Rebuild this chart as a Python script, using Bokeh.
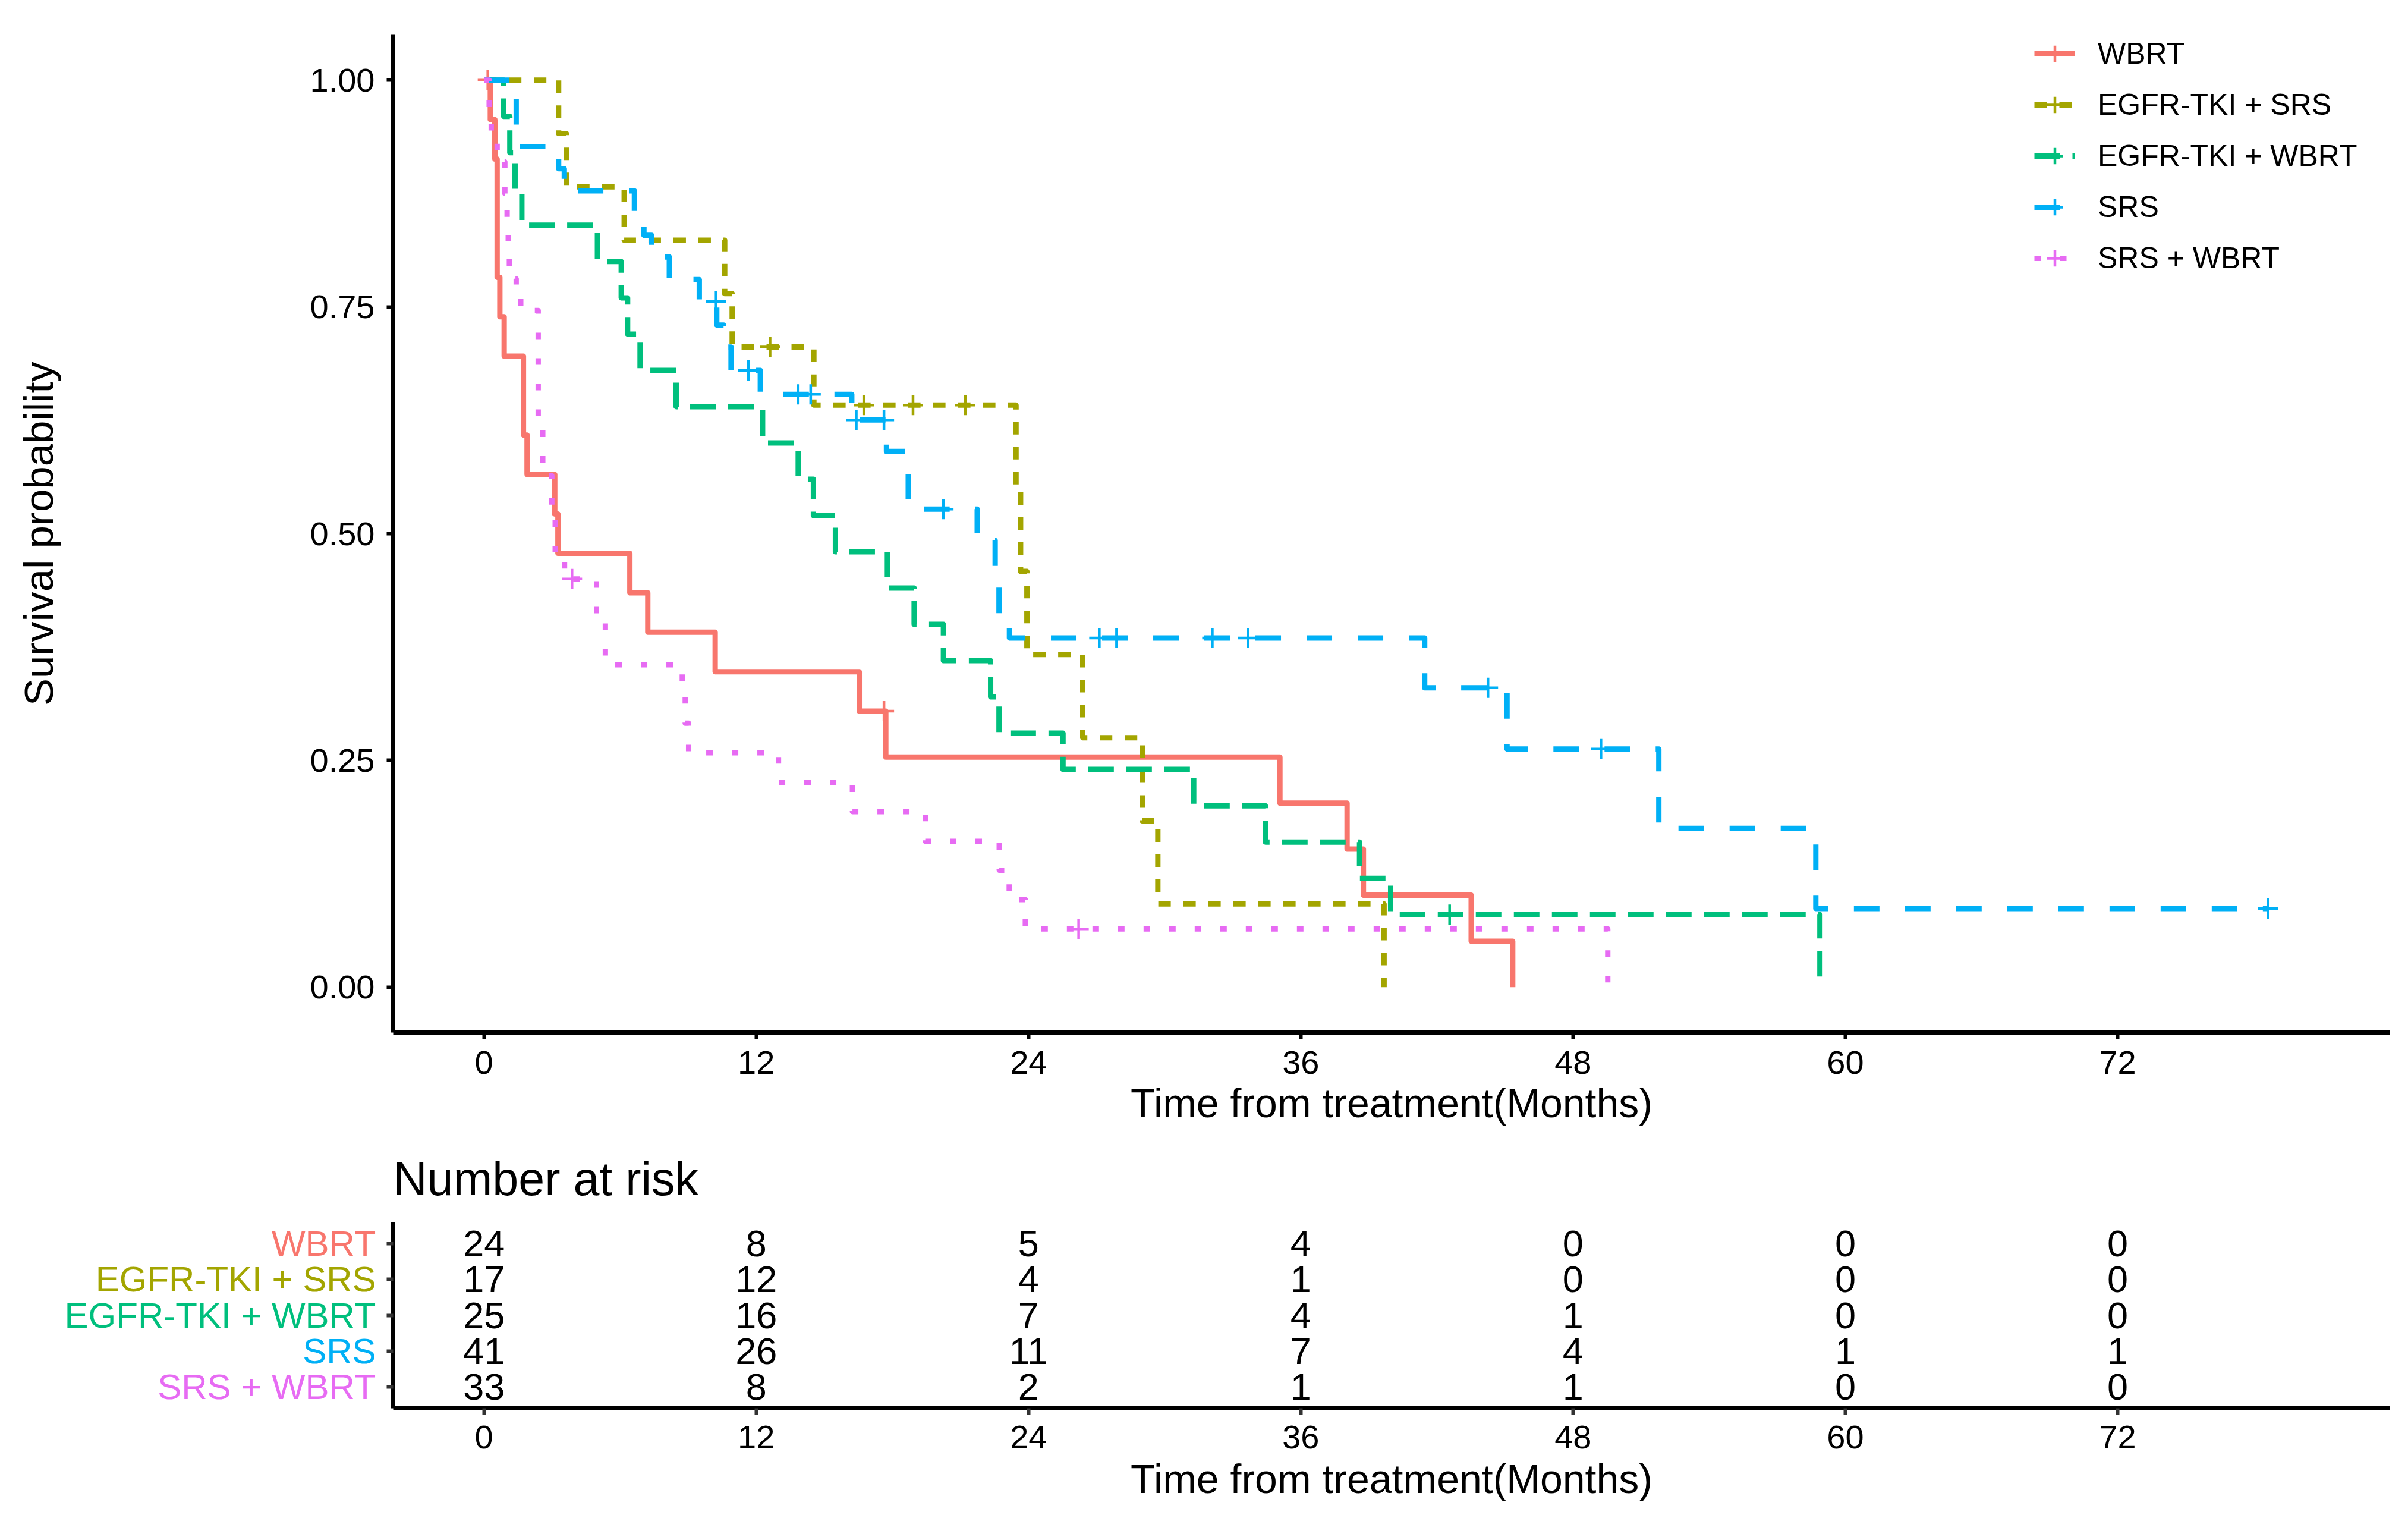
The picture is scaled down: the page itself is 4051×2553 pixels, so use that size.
from bokeh.plotting import figure
from bokeh.models import (Range1d, FixedTicker, PrintfTickFormatter, Legend,
                          LegendItem, Title, ColumnDataSource)
from bokeh.layouts import column, row
from bokeh.embed import file_html
from bokeh.resources import INLINE
from bokeh.core.properties import value

FONT = "Liberation Sans"

groups = ["WBRT", "EGFR-TKI + SRS", "EGFR-TKI + WBRT", "SRS", "SRS + WBRT"]
colors = ["#F8766D", "#A3A500", "#00BF7D", "#00B0F6", "#E76BF3"]
dashes = ["solid", "21 21", "43 21", "43 43", "11 32"]

# ---- Kaplan-Meier step data ----
wbrt_time = [0, 0.28, 0.48, 0.58, 0.70, 0.89, 1.74, 1.90, 3.12, 3.26, 6.43, 7.22,
             10.19, 16.54, 17.71, 35.08, 38.04, 38.76, 43.51, 45.34]
wbrt_surv = [1.0, 0.9565, 0.9130, 0.7826, 0.7391, 0.6957, 0.6087, 0.5652, 0.5217,
             0.4783, 0.4348, 0.3913, 0.3478, 0.3043, 0.2536, 0.2029, 0.1522, 0.1014,
             0.0507, 0.0]
wbrt_cens_t = [0.17, 17.63]
wbrt_cens_s = [1.0, 0.3043]

egsrs_time = [0, 3.29, 3.63, 6.18, 10.61, 10.94, 14.54, 23.45, 23.65, 23.93, 26.39,
              29.01, 29.70, 39.67]
egsrs_surv = [1.0, 0.9412, 0.8824, 0.8235, 0.7647, 0.7059, 0.6417, 0.5500, 0.4583,
              0.3667, 0.2750, 0.1833, 0.0917, 0.0]
egsrs_cens_t = [12.61, 16.74, 18.91, 21.21]
egsrs_cens_s = [0.7059, 0.6417, 0.6417, 0.6417]

egwbrt_time = [0, 0.87, 1.14, 1.37, 1.67, 5.00, 6.05, 6.33, 6.88, 8.47, 12.28, 13.85,
               14.52, 15.49, 17.78, 18.96, 20.25, 22.33, 22.70, 25.52, 31.28, 34.44,
               38.59, 39.96, 58.88]
egwbrt_surv = [1.0, 0.96, 0.92, 0.88, 0.84, 0.80, 0.76, 0.72, 0.68, 0.64, 0.60, 0.56,
               0.52, 0.48, 0.44, 0.40, 0.36, 0.32, 0.28, 0.24, 0.20, 0.16, 0.12, 0.08,
               0.0]
egwbrt_cens_t = [42.56]
egwbrt_cens_s = [0.08]

srs_time = [0, 1.42, 3.29, 3.54, 6.63, 7.05, 7.39, 8.17, 9.49, 10.26, 10.56, 10.89,
            12.18, 16.21, 17.74, 18.70, 21.74, 22.53, 22.70, 23.16, 41.46, 45.09,
            51.78, 58.70, 78.63]
srs_surv = [1.0, 0.9268, 0.9024, 0.878, 0.854, 0.829, 0.805, 0.780, 0.756, 0.730,
            0.7057, 0.680, 0.6536, 0.6253, 0.5906, 0.527, 0.4925, 0.459, 0.41, 0.385,
            0.330, 0.2626, 0.175, 0.0866, 0.0866]
srs_cens_t = [10.23, 11.65, 13.85, 14.40, 16.41, 17.63, 20.25, 27.12, 27.88, 32.10,
              33.67, 44.25, 49.23, 78.63]
srs_cens_s = [0.756, 0.680, 0.6536, 0.6536, 0.6253, 0.6253, 0.527, 0.385, 0.385,
              0.385, 0.385, 0.330, 0.2626, 0.0866]

srswbrt_time = [0, 0.23, 0.32, 0.58, 0.92, 1.02, 1.07, 1.12, 1.42, 1.62, 2.39, 2.59,
                2.99, 3.14, 3.55, 4.96, 5.35, 8.74, 8.87, 9.02, 12.98, 16.24, 19.45,
                22.71, 23.15, 23.86, 49.53]
srswbrt_surv = [1.0, 0.97, 0.94, 0.91, 0.875, 0.844, 0.812, 0.781, 0.765, 0.746,
                0.625, 0.564, 0.528, 0.469, 0.45, 0.41, 0.3555, 0.323, 0.291, 0.2585,
                0.2257, 0.1936, 0.1608, 0.129, 0.0965, 0.0643, 0.0]
srswbrt_cens_t = [3.88, 26.21]
srswbrt_cens_s = [0.45, 0.0643]

curves_t = [wbrt_time, egsrs_time, egwbrt_time, srs_time, srswbrt_time]
curves_s = [wbrt_surv, egsrs_surv, egwbrt_surv, srs_surv, srswbrt_surv]
cens_t = [wbrt_cens_t, egsrs_cens_t, egwbrt_cens_t, srs_cens_t, srswbrt_cens_t]
cens_s = [wbrt_cens_s, egsrs_cens_s, egwbrt_cens_s, srs_cens_s, srswbrt_cens_s]

# ---- Number at risk ----
risk_times = [0, 12, 24, 36, 48, 60, 72]
risk_wbrt = [24, 8, 5, 4, 0, 0, 0]
risk_egsrs = [17, 12, 4, 1, 0, 0, 0]
risk_egwbrt = [25, 16, 7, 4, 1, 0, 0]
risk_srs = [41, 26, 11, 7, 4, 1, 1]
risk_srswbrt = [33, 8, 2, 1, 1, 0, 0]
risk_rows = [risk_wbrt, risk_egsrs, risk_egwbrt, risk_srs, risk_srswbrt]
row_pos = [5, 4, 3, 2, 1]

x_ticks = [0, 12, 24, 36, 48, 60, 72]
y_ticks = [0, 0.25, 0.5, 0.75, 1.0]

W = 4038
MAIN_TOP, MAIN_FRAME, MAIN_BOTTOM = 58, 1678, 166
MAIN_H = MAIN_TOP + MAIN_FRAME + MAIN_BOTTOM
RISK_TOP, RISK_FRAME, RISK_BOTTOM = 153, 313, 170
RISK_H = RISK_TOP + RISK_FRAME + RISK_BOTTOM
LBL_W = 636


def style_axis(ax, tick_color="black"):
    ax.axis_line_color = "black"
    ax.axis_line_width = 7
    ax.major_tick_line_color = tick_color
    ax.major_tick_line_width = 6
    ax.major_tick_out = 11
    ax.major_tick_in = 0
    ax.minor_tick_line_color = None
    ax.major_label_text_font = FONT
    ax.major_label_text_color = "black"
    ax.major_label_text_font_size = "56px"
    ax.axis_label_text_font = FONT
    ax.axis_label_text_font_style = "normal"
    ax.axis_label_text_color = "black"
    ax.axis_label_text_font_size = "68px"


# ---- main survival plot ----
p = figure(width=W, height=MAIN_H, x_range=Range1d(-4, 84), y_range=Range1d(-0.05, 1.05),
           output_backend="svg", toolbar_location=None,
           min_border_left=661, min_border_right=18, min_border_top=MAIN_TOP,
           min_border_bottom=MAIN_BOTTOM)
p.outline_line_color = None
p.grid.visible = False
p.background_fill_color = "white"
p.border_fill_color = "white"

p.xaxis.ticker = FixedTicker(ticks=x_ticks)
p.yaxis.ticker = FixedTicker(ticks=y_ticks)
p.yaxis.formatter = PrintfTickFormatter(format="%.2f")
style_axis(p.xaxis[0])
style_axis(p.yaxis[0])
p.xaxis.axis_label = "Time from treatment(Months)"
p.yaxis.axis_label = "Survival probability"
p.xaxis.major_label_standoff = 20
p.xaxis.axis_label_standoff = 8
p.yaxis.major_label_standoff = 20
p.yaxis.axis_label_standoff = 415
p.yaxis.axis_label_text_font_size = "69px"

items = []
for g, c, d, ts, ss, ct, cs in zip(groups, colors, dashes, curves_t, curves_s, cens_t, cens_s):
    src = ColumnDataSource(dict(x=ts, y=ss))
    r1 = p.step(x="x", y="y", source=src, mode="after", line_color=c, line_width=9,
                line_dash=d, line_join="round")
    csrc = ColumnDataSource(dict(x=ct, y=cs))
    r2 = p.scatter(x="x", y="y", source=csrc, marker="cross", size=34, line_color=c,
                   line_width=4.5)
    items.append(LegendItem(label=g, renderers=[r1, r2]))

legend = Legend(items=items, location=(2761, 1259), orientation="vertical",
                label_text_font=FONT, label_text_font_size="50px",
                label_text_color="black", glyph_width=69, glyph_height=86,
                label_height=86, spacing=0, padding=0, margin=0,
                label_standoff=38, border_line_color=None,
                background_fill_alpha=0)
p.add_layout(legend)

# ---- risk table ----
rk = figure(width=W - LBL_W, height=RISK_H, x_range=p.x_range, y_range=Range1d(0.4, 5.6),
            output_backend="svg", toolbar_location=None,
            min_border_left=661 - LBL_W, min_border_right=18, min_border_top=RISK_TOP,
            min_border_bottom=RISK_BOTTOM)
rk.outline_line_color = None
rk.grid.visible = False
rk.background_fill_color = "white"
rk.border_fill_color = "white"
rk.xaxis.ticker = FixedTicker(ticks=x_ticks)
rk.yaxis.ticker = FixedTicker(ticks=row_pos)
rk.yaxis.major_label_overrides = {k: "" for k in row_pos}
style_axis(rk.xaxis[0], tick_color="#333333")
style_axis(rk.yaxis[0], tick_color="#333333")
rk.yaxis.major_label_standoff = 0
rk.xaxis.axis_label = "Time from treatment(Months)"
rk.xaxis.major_label_standoff = 18
rk.xaxis.axis_label_standoff = 10

rk.add_layout(Title(text="Number at risk", align="left", offset=0, standoff=58,
                    text_font=FONT, text_font_size="79px", text_font_style="normal",
                    text_color="black"), "above")

tx, ty, tt = [], [], []
for yv, rowv in zip(row_pos, risk_rows):
    for t, n in zip(risk_times, rowv):
        tx.append(t)
        ty.append(yv)
        tt.append(str(n))
rk.text(x="x", y="y", text="t", source=ColumnDataSource(dict(x=tx, y=ty, t=tt)),
        text_font=value(FONT), text_font_size="63px", text_align="center",
        text_baseline="middle", text_color="black")

# strata labels of the risk table (coloured), in a narrow companion panel
lbl = figure(width=LBL_W, height=RISK_H, x_range=Range1d(0, LBL_W), y_range=rk.y_range,
             output_backend="svg", toolbar_location=None, x_axis_type=None,
             y_axis_type=None, min_border_left=0, min_border_right=0,
             min_border_top=RISK_TOP, min_border_bottom=RISK_BOTTOM)
lbl.outline_line_color = None
lbl.grid.visible = False
lbl.border_fill_color = "white"
lbl.text(x="x", y="y", text="t", text_color="c",
         source=ColumnDataSource(dict(x=[LBL_W - 4] * 5, y=row_pos, t=groups, c=colors)),
         text_font=value(FONT), text_font_size="60px", text_align="right",
         text_baseline="middle")

layout = column(p, row(lbl, rk, spacing=0), spacing=0)
open("out.html", "w").write(file_html(layout, INLINE))
